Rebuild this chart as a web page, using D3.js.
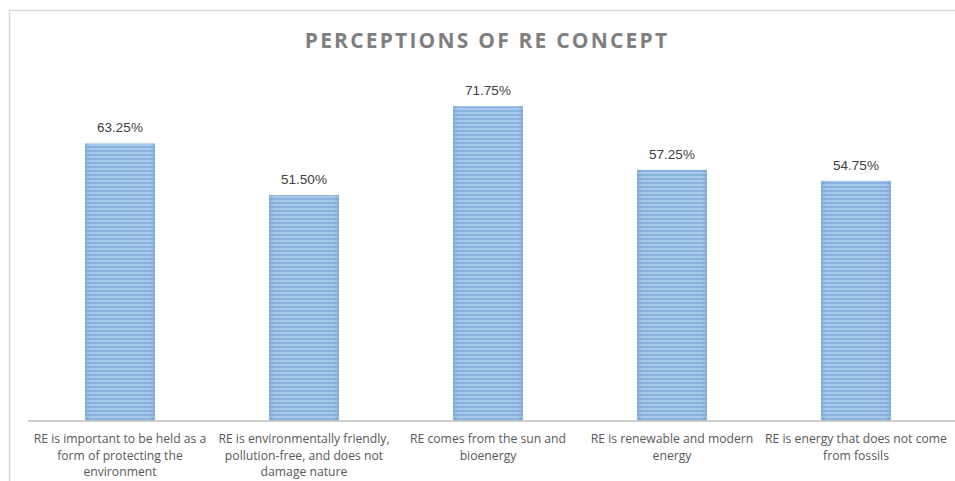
<!DOCTYPE html>
<html>
<head>
<meta charset="utf-8">
<script src="https://cdn.jsdelivr.net/npm/d3@7"></script>
<style>
  html, body { margin: 0; padding: 0; background: #fff; }
  svg { display: block; }
</style>
</head>
<body>
<svg id="chart" width="955" height="481"></svg>
<script>
const categories = [
  ["RE is important to be held as a", "form of protecting the", "environment"],
  ["RE is environmentally friendly,", "pollution-free, and does not", "damage nature"],
  ["RE comes from the sun and", "bioenergy"],
  ["RE is renewable and modern", "energy"],
  ["RE is energy that does not come", "from fossils"]
];
const values = [63.25, 51.50, 71.75, 57.25, 54.75];
const valueLabels = ["63.25%", "51.50%", "71.75%", "57.25%", "54.75%"];
const titleText = "PERCEPTIONS OF RE CONCEPT";

const svg = d3.select("#chart");
const W = 955, H = 481;
const plot = { left: 28, right: 948, top: 70, bottom: 421 };

// chart frame
svg.append("path")
  .attr("d", `M9.5,${H} V10.5 H${W}`)
  .attr("fill", "none").attr("stroke", "#d9d9d9").attr("stroke-width", 1.5);

// bar fill: horizontal stripes with slightly darker side edges
const defs = svg.append("defs");
const pat = defs.append("pattern")
  .attr("id", "stripes").attr("patternUnits", "userSpaceOnUse")
  .attr("width", 8).attr("height", 4);
pat.append("rect").attr("width", 8).attr("height", 4).attr("fill", "#a9c9ea");
pat.append("rect").attr("y", 2).attr("width", 8).attr("height", 2).attr("fill", "#8ab3e0");

const edge = defs.append("linearGradient").attr("id", "edgeShade")
  .attr("x1", 0).attr("x2", 1).attr("y1", 0).attr("y2", 0);
[[0, 0.28], [0.08, 0.0], [0.92, 0.0], [1, 0.28]].forEach(([o, a]) =>
  edge.append("stop").attr("offset", o).attr("stop-color", "#4a7fc0").attr("stop-opacity", a));

const x = d3.scaleBand()
  .domain(d3.range(values.length))
  .range([plot.left, plot.right])
  .paddingInner(0.62).paddingOuter(0.31);

const y = d3.scaleLinear().domain([0, 80]).range([plot.bottom, plot.top]);

// title
svg.append("text")
  .attr("x", 487).attr("y", 48)
  .attr("text-anchor", "middle")
  .attr("font-family", "'Open Sans', sans-serif")
  .attr("font-weight", "bold")
  .attr("font-size", 21)
  .attr("letter-spacing", 2.2)
  .attr("fill", "#7f7f7f")
  .text(titleText);

// bars
const bars = svg.append("g");
bars.selectAll("rect.bar").data(values).join("rect")
  .attr("class", "bar")
  .attr("x", (d, i) => x(i)).attr("width", x.bandwidth())
  .attr("y", d => y(d)).attr("height", d => y(0) - y(d))
  .attr("fill", "url(#stripes)");
bars.selectAll("rect.shade").data(values).join("rect")
  .attr("class", "shade")
  .attr("x", (d, i) => x(i)).attr("width", x.bandwidth())
  .attr("y", d => y(d)).attr("height", d => y(0) - y(d))
  .attr("fill", "url(#edgeShade)");

// value labels
svg.append("g").selectAll("text").data(values).join("text")
  .attr("x", (d, i) => x(i) + x.bandwidth() / 2)
  .attr("y", d => y(d) - 11)
  .attr("text-anchor", "middle")
  .attr("font-family", "'Liberation Sans', Arial, sans-serif")
  .attr("font-size", 13.5)
  .attr("fill", "#404040")
  .text((d, i) => valueLabels[i]);

// category axis
const axis = d3.axisBottom(x).tickSize(0).tickFormat("");
const axisG = svg.append("g").attr("transform", `translate(0,${plot.bottom})`).call(axis);
axisG.select(".domain").attr("stroke", "#bfbfbf").attr("stroke-width", 1.5)
  .attr("d", `M${plot.left},0H${W}`);

const labels = svg.append("g").selectAll("text").data(categories).join("text")
  .attr("text-anchor", "middle")
  .attr("font-family", "'Open Sans', sans-serif")
  .attr("font-size", 12.2)
  .attr("fill", "#595959");
labels.each(function(lines, i) {
  const t = d3.select(this);
  lines.forEach((ln, k) => {
    t.append("tspan")
      .attr("x", x(i) + x.bandwidth() / 2)
      .attr("y", plot.bottom + 22 + k * 16.5)
      .text(ln);
  });
});
</script>
</body>
</html>
